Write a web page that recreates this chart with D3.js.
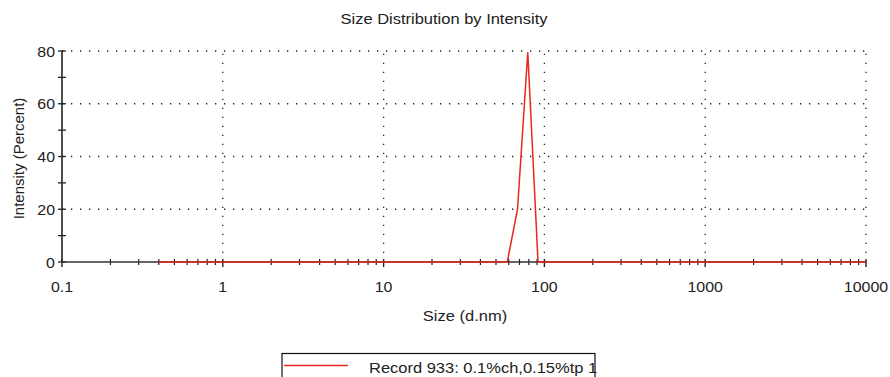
<!DOCTYPE html>
<html><head><meta charset="utf-8">
<script src="https://cdn.jsdelivr.net/npm/d3@7/dist/d3.min.js"></script>
<style>
body{margin:0;background:#fff;}
svg{display:block;font-family:"Liberation Sans",Arial,sans-serif;}
</style></head>
<body><svg id="c" width="890" height="377"></svg>
<script>
const sizes = [0.4, 50.75, 58.77, 68.06, 78.82, 91.28, 105.7, 10000];
const intensity = [0, 0, 0, 20, 79.5, 0, 0, 0];
const xTicks = [0.1, 1, 10, 100, 1000, 10000];
const xTickLabels = ["0.1", "1", "10", "100", "1000", "10000"];
const yTicks = [0, 20, 40, 60, 80];
const yMinor = [10, 30, 50, 70];
const seriesName = "Record 933: 0.1%ch,0.15%tp 1";

const svg = d3.select("#c");
const x = d3.scaleLog().domain([0.1, 10000]).range([62, 866]);
const y = d3.scaleLinear().domain([0, 80]).range([262, 51]);
const SX = 1.1;
function txt(px, py, s, size, anchor) {
  return svg.append("text")
    .attr("transform", `translate(${px},${py}) scale(${SX},1)`)
    .attr("text-anchor", anchor || "start").attr("font-size", size)
    .attr("fill", "#222").text(s);
}

// grid
const g = svg.append("g");
g.selectAll(".hg").data(yTicks.filter(d => d > 0)).join("line")
  .attr("x1", 62).attr("x2", 866).attr("y1", d => y(d)).attr("y2", d => y(d))
  .attr("stroke", "#222").attr("stroke-width", 1.3).attr("stroke-dasharray", "1.3,7.7");
g.selectAll(".vg").data(xTicks.filter(d => d > 0.1)).join("line")
  .attr("x1", d => x(d)).attr("x2", d => x(d)).attr("y1", 262).attr("y2", 51)
  .attr("stroke", "#222").attr("stroke-width", 1.3).attr("stroke-dasharray", "1.3,7.7");

// x minor ticks
const minors = [];
for (const dec of [0.1, 1, 10, 100, 1000]) for (let k = 2; k <= 9; k++) minors.push(dec * k);
svg.selectAll(".xm").data(minors).join("line")
  .attr("x1", d => x(d)).attr("x2", d => x(d)).attr("y1", 259).attr("y2", 265)
  .attr("stroke", "#222").attr("stroke-width", 1.2);
svg.selectAll(".xM").data(xTicks).join("line")
  .attr("x1", d => x(d)).attr("x2", d => x(d)).attr("y1", 259).attr("y2", 267)
  .attr("stroke", "#222").attr("stroke-width", 1.4);
xTicks.forEach((d, i) => txt(x(d), 291.5, xTickLabels[i], 14.5, "middle"));

// y ticks
svg.selectAll(".ym").data(yTicks.concat(yMinor)).join("line")
  .attr("x1", 58).attr("x2", 66).attr("y1", d => y(d)).attr("y2", d => y(d))
  .attr("stroke", "#222").attr("stroke-width", 1.3);
yTicks.forEach(d => txt(55, y(d) + 5.5, String(d), 14.5, "end"));

// axes lines
svg.append("line").attr("x1", 62).attr("x2", 62).attr("y1", 51).attr("y2", 262)
  .attr("stroke", "#222").attr("stroke-width", 1.6);
svg.append("line").attr("x1", 62).attr("x2", 866).attr("y1", 262).attr("y2", 262)
  .attr("stroke", "#333").attr("stroke-width", 1.6);

// series
const pts = sizes.map((s, i) => [s, intensity[i]]);
svg.append("path").datum(pts)
  .attr("d", d3.line().x(d => x(d[0])).y(d => y(d[1])))
  .attr("fill", "none").attr("stroke", "#e8261c").attr("stroke-width", 1.5);

// titles
txt(444, 24, "Size Distribution by Intensity", 15, "middle");
txt(465, 320.5, "Size (d.nm)", 15, "middle");
svg.append("text").attr("transform", "translate(23.5,158.5) rotate(-90)").attr("text-anchor", "middle")
  .attr("font-size", 15).attr("fill", "#222").text("Intensity (Percent)");

// legend
svg.append("rect").attr("x", 282).attr("y", 353.5).attr("width", 313).attr("height", 40)
  .attr("fill", "none").attr("stroke", "#111").attr("stroke-width", 1.2);
svg.append("line").attr("x1", 284).attr("x2", 348).attr("y1", 365.5).attr("y2", 365.5)
  .attr("stroke", "#e8261c").attr("stroke-width", 1.3);
txt(369, 373, seriesName, 15, "start");
</script></body></html>
